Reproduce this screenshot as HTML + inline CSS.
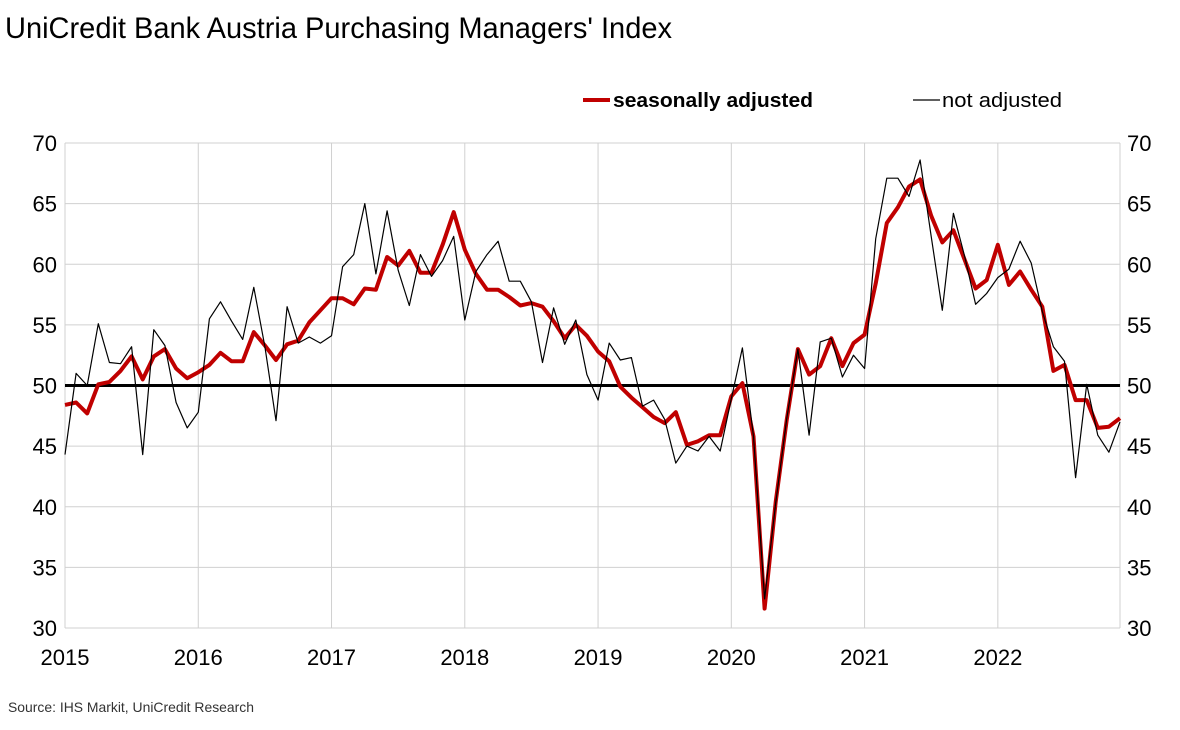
<!DOCTYPE html>
<html><head><meta charset="utf-8"><style>
html,body{margin:0;padding:0;background:#fff;}
svg{display:block;font-family:"Liberation Sans",sans-serif;}
</style></head><body>
<svg id="c" width="1180" height="730" viewBox="0 0 1180 730" xmlns="http://www.w3.org/2000/svg">
<text x="5" y="38" font-size="30" fill="#000" textLength="667" lengthAdjust="spacingAndGlyphs">UniCredit Bank Austria Purchasing Managers' Index</text>
<line x1="583" y1="100" x2="610" y2="100" stroke="#c00000" stroke-width="4"/>
<text x="613" y="107" font-size="20" font-weight="bold" textLength="200" lengthAdjust="spacingAndGlyphs">seasonally adjusted</text>
<line x1="913" y1="100" x2="940" y2="100" stroke="#000" stroke-width="1.2"/>
<text x="942" y="107" font-size="20" textLength="120" lengthAdjust="spacingAndGlyphs">not adjusted</text>
<g id="grid"></g>
<g id="lbl" font-size="22" fill="#000"></g>
<text x="8" y="712" font-size="14" fill="#333" textLength="246" lengthAdjust="spacingAndGlyphs">Source: IHS Markit, UniCredit Research</text>
</svg>
<script>
var s=document.getElementById('c'),g=document.getElementById('grid'),L=document.getElementById('lbl');
function el(t,a,p){var e=document.createElementNS('http://www.w3.org/2000/svg',t);for(var k in a)e.setAttribute(k,a[k]);(p||s).appendChild(e);return e;}
function Y(v){return 143+(70-v)*12.125;}
var x0=65,x1=1120,st=(x1-x0)/95;
for(var v=30;v<=70;v+=5){el('line',{x1:x0,x2:x1,y1:Y(v),y2:Y(v),stroke:'#d0d0d0','stroke-width':1},g);
var t=el('text',{x:57,y:Y(v)+8,'text-anchor':'end'},L);t.textContent=v;
t=el('text',{x:1127,y:Y(v)+8},L);t.textContent=v;}
for(var i=0;i<9;i++){var x=x0+i*12*st;if(i<8){el('line',{x1:x,x2:x,y1:143,y2:628,stroke:'#d0d0d0','stroke-width':1},g);
var t=el('text',{x:x,y:665,'text-anchor':'middle'},L);t.textContent=2015+i;}}
el('line',{x1:x1,x2:x1,y1:143,y2:628,stroke:'#d0d0d0','stroke-width':1},g);
el('line',{x1:x0,x2:x1,y1:Y(50),y2:Y(50),stroke:'#000','stroke-width':3},g);
var na=[44.3,51.0,50.0,55.1,51.9,51.8,53.2,44.3,54.6,53.3,48.6,46.5,
47.8,55.5,56.9,55.3,53.8,58.1,53.2,47.1,56.5,53.5,54.0,53.5,
54.1,59.8,60.8,65.0,59.2,64.4,59.5,56.6,60.8,59.0,60.3,62.3,
55.4,59.4,60.8,61.9,58.6,58.6,56.9,51.9,56.4,53.4,55.4,50.9,
48.8,53.5,52.1,52.3,48.3,48.8,47.2,43.6,45.0,44.6,45.8,44.6,
48.9,53.1,45.8,32.4,40.3,47.3,53.0,45.9,53.6,53.9,50.7,52.5,
51.4,62.1,67.1,67.1,65.6,68.6,62.3,56.2,64.2,60.7,56.7,57.6,
58.9,59.6,61.9,60.1,56.1,53.2,52.0,42.4,50.1,45.9,44.5,47.0];
var sa=[48.4,48.6,47.7,50.1,50.3,51.2,52.4,50.5,52.4,53.0,51.4,50.6,
51.1,51.7,52.7,52.0,52.0,54.4,53.3,52.1,53.4,53.7,55.2,56.2,
57.2,57.2,56.7,58.0,57.9,60.6,59.9,61.1,59.3,59.3,61.6,64.3,
61.2,59.2,57.9,57.9,57.3,56.6,56.8,56.5,55.3,53.9,55.0,54.1,
52.8,52.0,49.9,49.0,48.2,47.4,46.9,47.8,45.1,45.4,45.9,45.9,
49.1,50.2,45.8,31.6,40.4,47.2,53.0,50.9,51.6,53.9,51.6,53.5,
54.2,58.4,63.4,64.7,66.4,67.0,64.0,61.8,62.8,60.4,58.0,58.7,
61.6,58.3,59.4,57.9,56.5,51.2,51.7,48.8,48.8,46.5,46.6,47.3];
function pts(a){return a.map(function(v,i){return (x0+i*st).toFixed(1)+','+Y(v).toFixed(1);}).join(' ');}
el('polyline',{points:pts(sa),fill:'none',stroke:'#c00000','stroke-width':4,'stroke-linejoin':'round'});
el('polyline',{points:pts(na),fill:'none',stroke:'#000','stroke-width':1.2,'stroke-linejoin':'round'});
</script>
</body></html>
